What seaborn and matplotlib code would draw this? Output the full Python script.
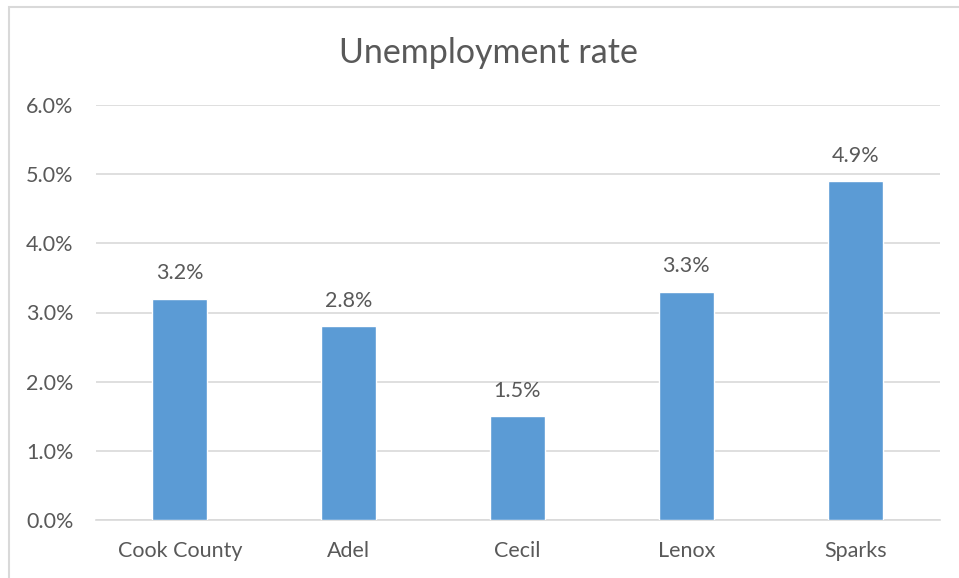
import matplotlib
matplotlib.use("Agg")
import matplotlib.pyplot as plt
import seaborn as sns
import pandas as pd
from matplotlib.patches import Rectangle
from matplotlib.ticker import FuncFormatter

categories = ["Cook County", "Adel", "Cecil", "Lenox", "Sparks"]
rates = [3.2, 2.8, 1.5, 3.3, 4.9]
y_ticks = [0.0, 1.0, 2.0, 3.0, 4.0, 5.0, 6.0]
title = "Unemployment rate"

sns.set_theme(style="white")
plt.rcParams['font.family'] = ['Lato', 'DejaVu Sans']

text_color = "#595959"
bar_color = "#5B9BD5"
grid_color = "#D9D9D9"

df = pd.DataFrame({"place": categories, "rate": rates})

fig = plt.figure(figsize=(9.59, 5.78), dpi=100)
fig.patch.set_facecolor("white")
# chart border
fig.patches.append(Rectangle((8.5 / 959, -0.1), 1.2, (578 - 7.5) / 578 + 0.1,
                             transform=fig.transFigure, fill=False,
                             edgecolor=grid_color, linewidth=1.5, zorder=0))

ax = fig.add_axes([95.5 / 959, 58 / 578, 844 / 959, 415 / 578])
sns.barplot(data=df, x="place", y="rate", color=bar_color, width=0.325,
            saturation=1, ax=ax, zorder=3)

ax.set_ylim(0, 6.0)
ax.set_xlim(-0.5, len(categories) - 0.5)
ax.set_yticks(y_ticks)
ax.yaxis.set_major_formatter(FuncFormatter(lambda v, p: f"{v:.1f}%"))
ax.grid(axis="y", color=grid_color, linewidth=1.2, zorder=0)
ax.set_axisbelow(True)
for s in ["top", "right", "left"]:
    ax.spines[s].set_visible(False)
ax.spines["bottom"].set_color(grid_color)
ax.spines["bottom"].set_linewidth(1.2)
ax.tick_params(axis="both", length=0, colors=text_color, labelsize=15.5)
ax.tick_params(axis="y", pad=16)
ax.tick_params(axis="x", pad=15)
ax.set_xlabel("")
ax.set_ylabel("")

for container in ax.containers:
    ax.bar_label(container, labels=[f"{v:.1f}%" for v in rates],
                 padding=11, color=text_color, fontsize=15.5)

fig.text(488 / 959, 1 - 53 / 578, title, ha="center", va="center",
         fontsize=24.5, color=text_color)

fig.savefig("out.png", dpi=100, facecolor="white")
